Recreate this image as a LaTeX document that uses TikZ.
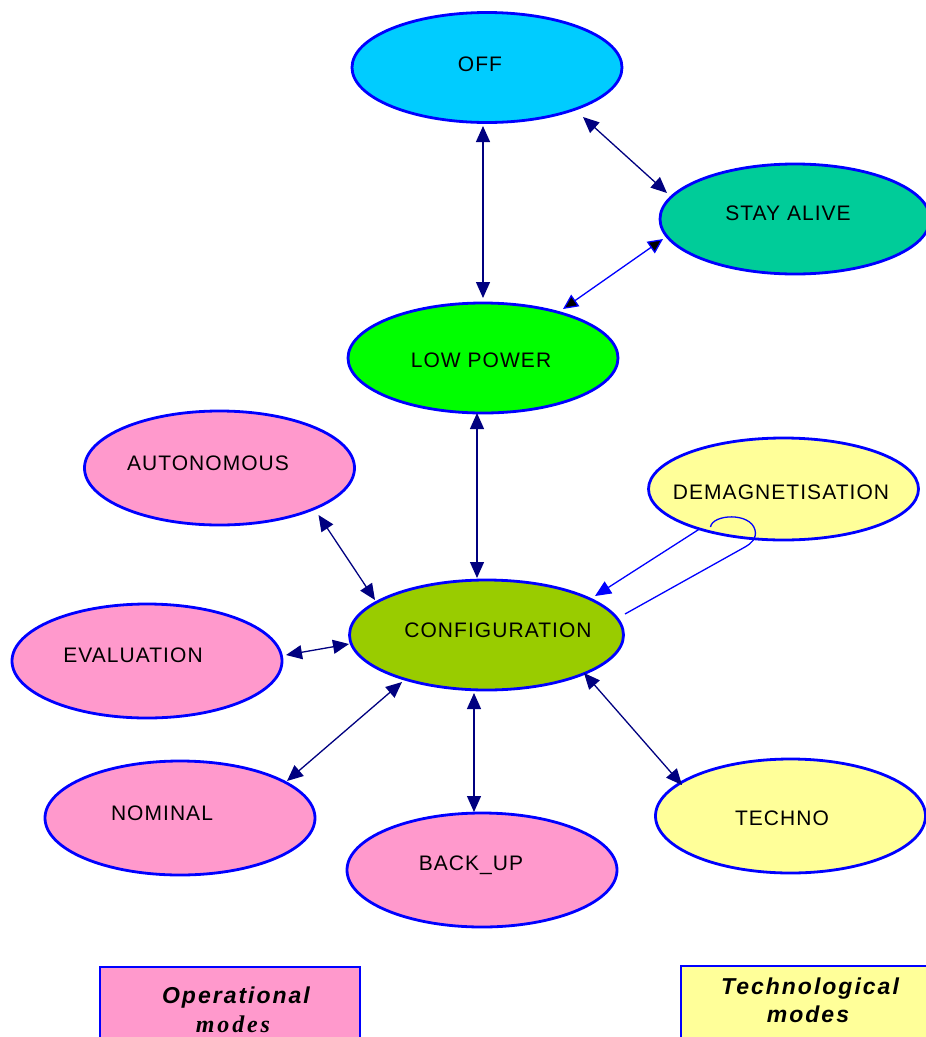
\documentclass[tikz,border=0pt]{standalone}
\usepackage{fontspec}
\setmainfont{Liberation Sans}
\newfontfamily\modefont[LetterSpace=5]{Liberation Sans}
\newfontfamily\legendsans[LetterSpace=8.7]{Liberation Sans}
\newfontfamily\legendserif[LetterSpace=12]{Liberation Serif}
\usetikzlibrary{shapes.geometric,arrows.meta,calc}
\definecolor{edgeblue}{HTML}{0000FF}
\definecolor{linknavy}{HTML}{000080}
\definecolor{offcyan}{HTML}{00CCFF}
\definecolor{alivegreen}{HTML}{00CC99}
\definecolor{lowgreen}{HTML}{00FF00}
\definecolor{configgreen}{HTML}{99CC00}
\definecolor{oppink}{HTML}{FF99CC}
\definecolor{techyellow}{HTML}{FFFF99}
\begin{document}
\begin{tikzpicture}[x=1pt,y=-1pt,
  mode/.style={ellipse, draw=edgeblue, line width=2.8pt, inner sep=0pt,
               minimum width=270pt, minimum height=110pt},
  modelabel/.style={anchor=base, inner sep=0pt, text=black,
               font=\modefont\fontsize{21}{24}\selectfont},
  link/.style={draw=linknavy, line width=1.3pt,
               {Triangle[length=16pt,width=14pt]}-{Triangle[length=16pt,width=14pt]}},
  bluelink/.style={draw=edgeblue, line width=1.3pt,
               {Triangle[length=15pt,width=14pt,fill=black]}-{Triangle[length=15pt,width=14pt,fill=black]}},
  flow/.style={draw=edgeblue, line width=1.3pt},
  legendbox/.style={draw=edgeblue, line width=1.5pt},
  legendsanstext/.style={anchor=base, inner sep=0pt, text=black,
               font=\legendsans\bfseries\itshape\fontsize{23}{26}\selectfont},
  legendseriftext/.style={anchor=base, inner sep=0pt, text=black,
               font=\legendserif\bfseries\itshape\fontsize{24}{26}\selectfont}]
\clip (0,0) rectangle (926,1037);

% mode ellipses
\node[mode, fill=offcyan]     (off)     at (487,67.5) {};
\node[mode, fill=alivegreen]  (stay)    at (795,219)  {};
\node[mode, fill=lowgreen]    (low)     at (483,358)  {};
\node[mode, fill=oppink, minimum height=114pt]     (auto)    at (219.5,468) {};
\node[mode, fill=techyellow, minimum height=102pt] (demag)   at (783.5,489) {};
\node[mode, fill=configgreen, minimum width=274pt] (config)  at (486.5,635) {};
\node[mode, fill=oppink, minimum height=114pt]     (eval)    at (147,661)   {};
\node[mode, fill=oppink, minimum height=114pt]     (nominal) at (180,818)   {};
\node[mode, fill=oppink, minimum height=114pt]     (backup)  at (482,870)   {};
\node[mode, fill=techyellow, minimum height=114pt] (techno)  at (790.5,816) {};

% mode names
\node[modelabel] (off-t)     at ($(off)+(-7,3.5)$)       {OFF};
\node[modelabel] (stay-t)    at ($(stay)+(-7,1)$)        {STAY ALIVE};
\node[modelabel] (low-t)     at ($(low)+(-2,9.3)$)       {LOW POWER};
\node[modelabel] (auto-t)    at ($(auto)+(-11.5,2.3)$)   {AUTONOMOUS};
\node[modelabel] (demag-t)   at ($(demag)+(-2.5,10.3)$)  {DEMAGNETISATION};
\node[modelabel] (config-t)  at ($(config)+(11.5,2.3)$)  {CONFIGURATION};
\node[modelabel] (eval-t)    at ($(eval)+(-14,1.3)$)     {EVALUATION};
\node[modelabel] (nominal-t) at ($(nominal)+(-18,2)$)    {NOMINAL};
\node[modelabel] (backup-t)  at ($(backup)+(-11,0.7)$)   {BACK\_UP};
\node[modelabel] (techno-t)  at ($(techno)+(-8.5,9)$)    {TECHNO};

% transitions
\draw[link] ($(off)+(-4,58.5)$) -- ($(low)+(0,-60)$);
\draw[link] ($(off)+(96,49.5)$) -- ($(stay)+(-128,-26)$);
\draw[bluelink] ($(stay)+(-132,20)$) -- ($(low)+(80,-49)$);
\draw[link] ($(low)+(-6,55)$) -- ($(config)+(-9.5,-57)$);
\draw[link] ($(auto)+(99,47)$) -- ($(config)+(-111.5,-35)$);
\draw[link] ($(eval)+(139,-6)$) -- ($(config)+(-137.5,9)$);
\draw[link] ($(nominal)+(107,-37)$) -- ($(config)+(-84.5,47)$);
\draw[link] ($(config)+(-12.5,58)$) -- ($(backup)+(-8,-58)$);
\draw[link] ($(config)+(97.5,38)$) -- ($(techno)+(-108.5,-31)$);

% demagnetisation paths
\draw[flow, -{Triangle[length=16pt,width=14pt]}]
  ($(demag)+(-84,40)$) -- ($(config)+(108.5,-39)$);
\draw[flow]
  ($(demag)+(-73,38)$) .. controls ($(demag)+(-71,25)$) and ($(demag)+(-33,23)$) ..
  ($(demag)+(-28.5,41)$) .. controls ($(demag)+(-26.5,49)$) and ($(demag)+(-31.5,54)$) ..
  ($(demag)+(-38.5,58)$) -- ($(config)+(138.5,-21)$);

% legend
\draw[legendbox, fill=oppink] (100,967) rectangle (360,1045);
\node[legendsanstext]  (op-a) at (236,1003) {Operational};
\node[legendseriftext] (op-b) at (233,1032) {modes};
\draw[legendbox, fill=techyellow] (681,966) rectangle (932,1045);
\node[legendsanstext]  (tech-a) at (810,994)  {Technological};
\node[legendsanstext]  (tech-b) at (808,1022) {modes};
\end{tikzpicture}
\end{document}
